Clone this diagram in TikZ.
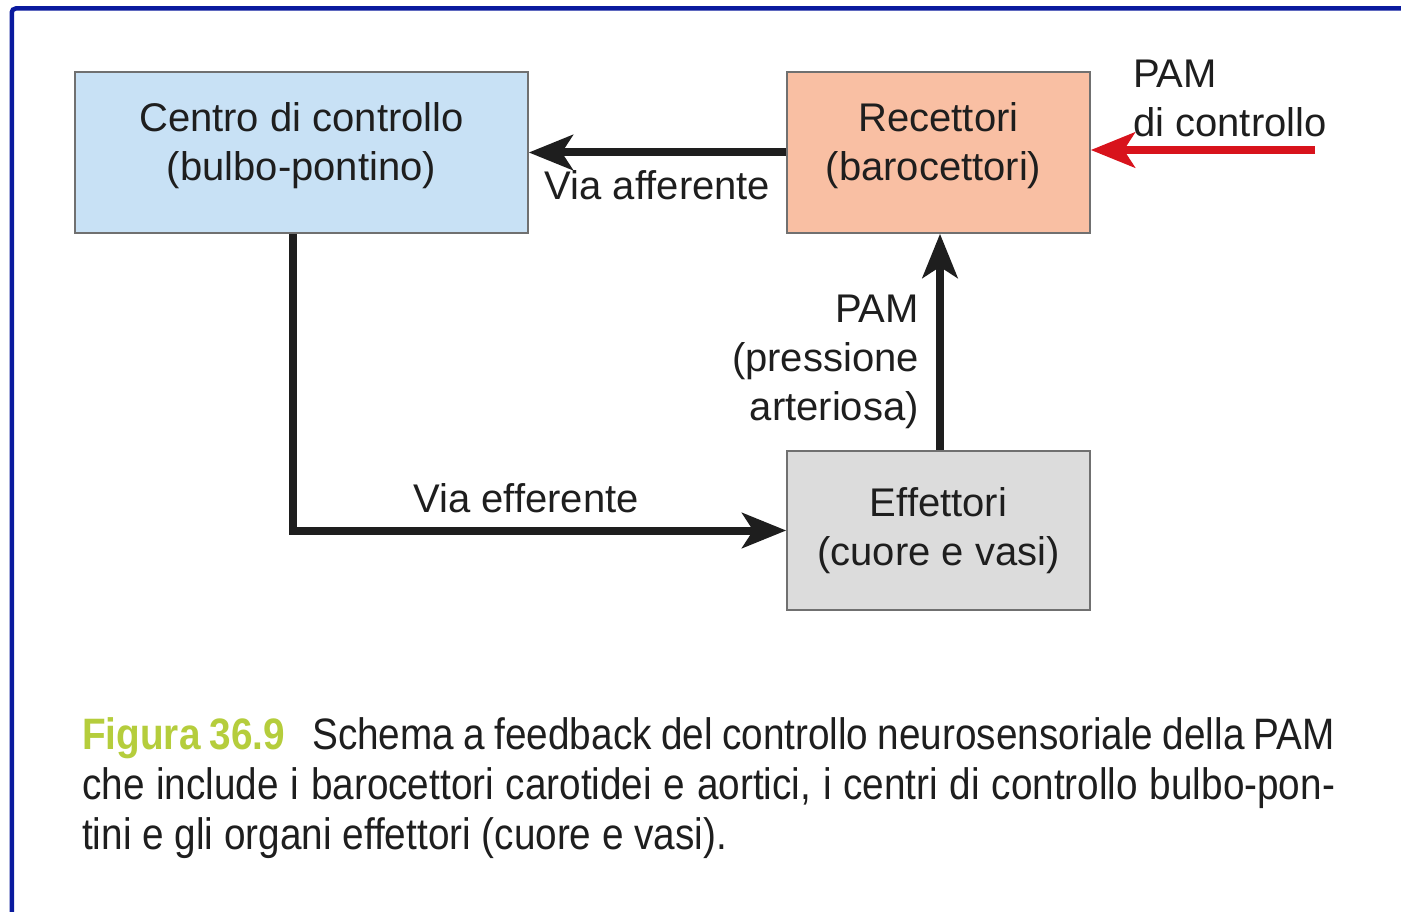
\documentclass[tikz,border=0pt]{standalone}
\usepackage{fontspec}
\setmainfont{Liberation Sans}
\newfontfamily\capfont[FakeStretch=0.88]{Liberation Sans}
\usetikzlibrary{arrows.meta}
\definecolor{frameblue}{HTML}{0A1A9E}
\definecolor{boxblue}{HTML}{C8E1F5}
\definecolor{boxsalmon}{HTML}{F9BFA3}
\definecolor{boxgray}{HTML}{DCDCDC}
\definecolor{boxedge}{HTML}{707070}
\definecolor{arrred}{HTML}{D8131C}
\definecolor{capgreen}{HTML}{B5CD3C}
\definecolor{txt}{HTML}{1E1E1E}
\begin{document}
\begin{tikzpicture}[x=1pt,y=-1pt,
  box/.style={draw=boxedge, line width=1.6pt, align=center, inner sep=0pt,
    text=txt, font=\fontsize{40}{49}\selectfont},
  conn/.style={line width=8pt, draw=txt, -{Stealth[length=44pt,width=35pt,inset=11pt]}},
  redconn/.style={line width=8pt, draw=arrred, -{Stealth[length=44pt,width=35pt,inset=11pt]}},
  lbl/.style={inner sep=0pt, text=txt, font=\fontsize{40}{49}\selectfont},
  caption/.style={inner sep=0pt, text=txt, align=left, font=\capfont\fontsize{44}{50}\selectfont}]
\useasboundingbox (0,0) rectangle (1401,912);
\fill[white] (0,0) rectangle (1401,912);
% frame
\draw[frameblue, line width=4.5pt, rounded corners=4pt] (11.75,930) -- (11.75,8.5) -- (1420,8.5);
% boxes
\node[box, fill=boxblue, minimum width=453pt, minimum height=161pt] (cen) at (301.5,152.5)
  {Centro di controllo\\(bulbo-pontino)\rule[-21pt]{0pt}{0pt}};
\node[box, fill=boxsalmon, minimum width=303pt, minimum height=161pt] (rec) at (938.5,152.5)
  {Recettori\\(barocettori)\rule[-21pt]{0pt}{0pt}\hspace*{10pt}};
\node[box, fill=boxgray, minimum width=303pt, minimum height=159pt] (eff) at (938.5,530.5)
  {Effettori\\(cuore e vasi)};
% connectors
\draw[conn] (rec.west) -- (cen.east);
\draw[conn] ([xshift=-8.5pt]cen.south) |- (eff.west);
\draw[conn] ([xshift=1.5pt]eff.north) -- ([xshift=1.5pt]rec.south);
\coordinate (pamin) at (1315,150);
\draw[redconn] (pamin) -- (rec.east |- pamin);
% labels
\node[lbl, anchor=base] (laff) at (657.5,200) {Via afferente};
\node[lbl, anchor=base] (leff) at (526,512) {Via efferente};
\node[lbl, anchor=north east, align=right] (lpam) at (919,294.4) {PAM\\(pressione\\arteriosa)};
\node[lbl, anchor=north west, align=left] (lctl) at (1133,59.4) {PAM\\di controllo};
% caption
\node[caption, anchor=north west] (cap) at (82,717) {%
\makebox[1253pt][s]{\textcolor{capgreen}{\bfseries Figura 36.9}\hspace{0.4em} Schema a feedback del controllo neurosensoriale della PAM}\\
\makebox[1253pt][s]{che include i barocettori carotidei e aortici, i centri di controllo bulbo-pon-}\\
tini e gli organi effettori (cuore e vasi).};
\end{tikzpicture}
\end{document}
